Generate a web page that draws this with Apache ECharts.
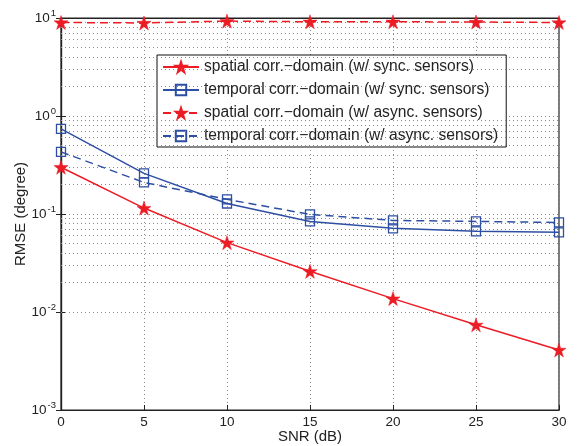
<!DOCTYPE html>
<html>
<head>
<meta charset="utf-8">
<script src="https://cdn.jsdelivr.net/npm/echarts@6/dist/echarts.min.js"></script>
<style>
  html, body { margin: 0; padding: 0; background: #fff; }
  #chart { width: 578px; height: 446px; }
</style>
</head>
<body>
<div id="chart"></div>
<script>
// SNR (dB)
const snr = [0, 5, 10, 15, 20, 25, 30]
// RMSE (degree)
const spatialSync = [0.30, 0.115, 0.051, 0.026, 0.0137, 0.0074, 0.0041]
const temporalSync = [0.74, 0.26, 0.128, 0.084, 0.0714, 0.0665, 0.065]
const spatialAsync = [9.0, 8.9, 9.3, 9.15, 9.15, 9.1, 9.0]
const temporalAsync = [0.43, 0.21, 0.141, 0.099, 0.086, 0.084, 0.082]
const seriesNames = [
  'spatial corr.\u2212domain (w/ sync. sensors)',
  'temporal corr.\u2212domain (w/ sync. sensors)',
  'spatial corr.\u2212domain (w/ async. sensors)',
  'temporal corr.\u2212domain (w/ async. sensors)'
]

const RED = '#ec1c24'
const BLUE = '#2d4fa3'
const GRIDC = '#8a8a8a'
const STAR = 'path://M50,0 L61.8,35.5 L99,35.5 L69,57.5 L80.5,93 L50,71 L19.5,93 L31,57.5 L1,35.5 L38.2,35.5 Z'

const pairs = ys => snr.map((x, i) => [x, ys[i]])

// minor grid values for the log axis (2..9 in each decade)
let minorGrid = []
for (let e = -3; e < 1; e++) {
  for (let m = 2; m <= 9; m++) minorGrid.push({ yAxis: m * Math.pow(10, e) })
}

function starSeries(name, data, dashed) {
  return {
    name, type: 'line', data: pairs(data),
    symbol: STAR, symbolSize: 14, showAllSymbol: true,
    itemStyle: { color: RED, borderColor: RED, borderWidth: 0.5 },
    lineStyle: { color: RED, width: 1.5, type: dashed ? [8, 5] : 'solid' },
    z: 5
  }
}
function squareSeries(name, data, dashed) {
  return {
    name, type: 'line', data: pairs(data),
    symbol: 'rect', symbolSize: 9, showAllSymbol: true,
    itemStyle: { color: 'rgba(255,255,255,0)', borderColor: BLUE, borderWidth: 1.3 },
    lineStyle: { color: BLUE, width: 1.5, type: dashed ? [8, 5] : 'solid' },
    z: 5
  }
}

const supLabel = v => {
  const e = Math.round(Math.log10(v))
  return '{b|10}{s|' + e + '}'
}
const labelRich = {
  b: { fontSize: 13.5, color: '#222', fontFamily: 'Liberation Sans' },
  s: { fontSize: 9.5, color: '#222', fontFamily: 'Liberation Sans', padding: [0, 0, 9, 1] }
}

const dotted = { color: GRIDC, width: 1, type: [1, 3] }

let myChart = echarts.init(document.getElementById('chart'), null, { renderer: 'canvas' })
myChart.setOption({
  animation: false,
  backgroundColor: '#fff',
  textStyle: { fontFamily: 'Liberation Sans' },
  grid: {
    left: 61, right: 19, top: 18, bottom: 36,
    outerBoundsMode: 'none', containLabel: false,
    show: true, borderColor: '#222', borderWidth: 1.2, backgroundColor: '#fff'
  },
  legend: {
    orient: 'vertical', left: 157, top: 55,
    data: seriesNames,
    backgroundColor: '#fff', borderColor: '#111', borderWidth: 1,
    padding: [4, 8, 3, 5], itemGap: 7, itemWidth: 36, itemHeight: 13,
    textStyle: { fontSize: 15.6, color: '#222', fontFamily: 'Liberation Sans' }
  },
  xAxis: [{
    type: 'value', min: 0, max: 30, interval: 5,
    name: 'SNR (dB)', nameLocation: 'middle', nameGap: 19, nameMoveOverlap: false,
    nameTextStyle: { fontSize: 15, color: '#222' },
    axisLine: { show: true, lineStyle: { color: '#222', width: 1.2 } },
    axisTick: { inside: true, length: 5, lineStyle: { color: '#222' } },
    axisLabel: { fontSize: 13.5, color: '#222', margin: 5 },
    splitLine: { show: true, lineStyle: dotted }
  }, {
    type: 'value', min: 0, max: 30, interval: 5, position: 'top',
    axisLine: { show: true, lineStyle: { color: '#222', width: 1.2 } },
    axisTick: { inside: true, length: 5, lineStyle: { color: '#222' } },
    axisLabel: { show: false }, splitLine: { show: false }
  }],
  yAxis: [{
    type: 'log', logBase: 10, min: 0.001, max: 10,
    name: 'RMSE (degree)', nameLocation: 'middle', nameGap: 33, nameMoveOverlap: false,
    nameTextStyle: { fontSize: 15, color: '#222' },
    axisLine: { show: true, lineStyle: { color: '#222', width: 1.2 } },
    axisTick: { inside: true, length: 5, lineStyle: { color: '#222' } },
    axisLabel: { formatter: supLabel, rich: labelRich, margin: 5 },
    splitLine: { show: true, lineStyle: dotted }
  }, {
    type: 'log', logBase: 10, min: 0.001, max: 10, position: 'right',
    axisLine: { show: true, lineStyle: { color: '#222', width: 1.2 } },
    axisTick: { inside: true, length: 5, lineStyle: { color: '#222' } },
    axisLabel: { show: false }, splitLine: { show: false }
  }],
  series: [
    {
      name: 'minor-grid', type: 'line', data: [], silent: true,
      markLine: {
        silent: true, symbol: 'none', label: { show: false },
        lineStyle: dotted, data: minorGrid, animation: false
      },
      z: 1
    },
    starSeries(seriesNames[0], spatialSync, false),
    squareSeries(seriesNames[1], temporalSync, false),
    starSeries(seriesNames[2], spatialAsync, true),
    squareSeries(seriesNames[3], temporalAsync, true)
  ]
})
</script>
</body>
</html>
